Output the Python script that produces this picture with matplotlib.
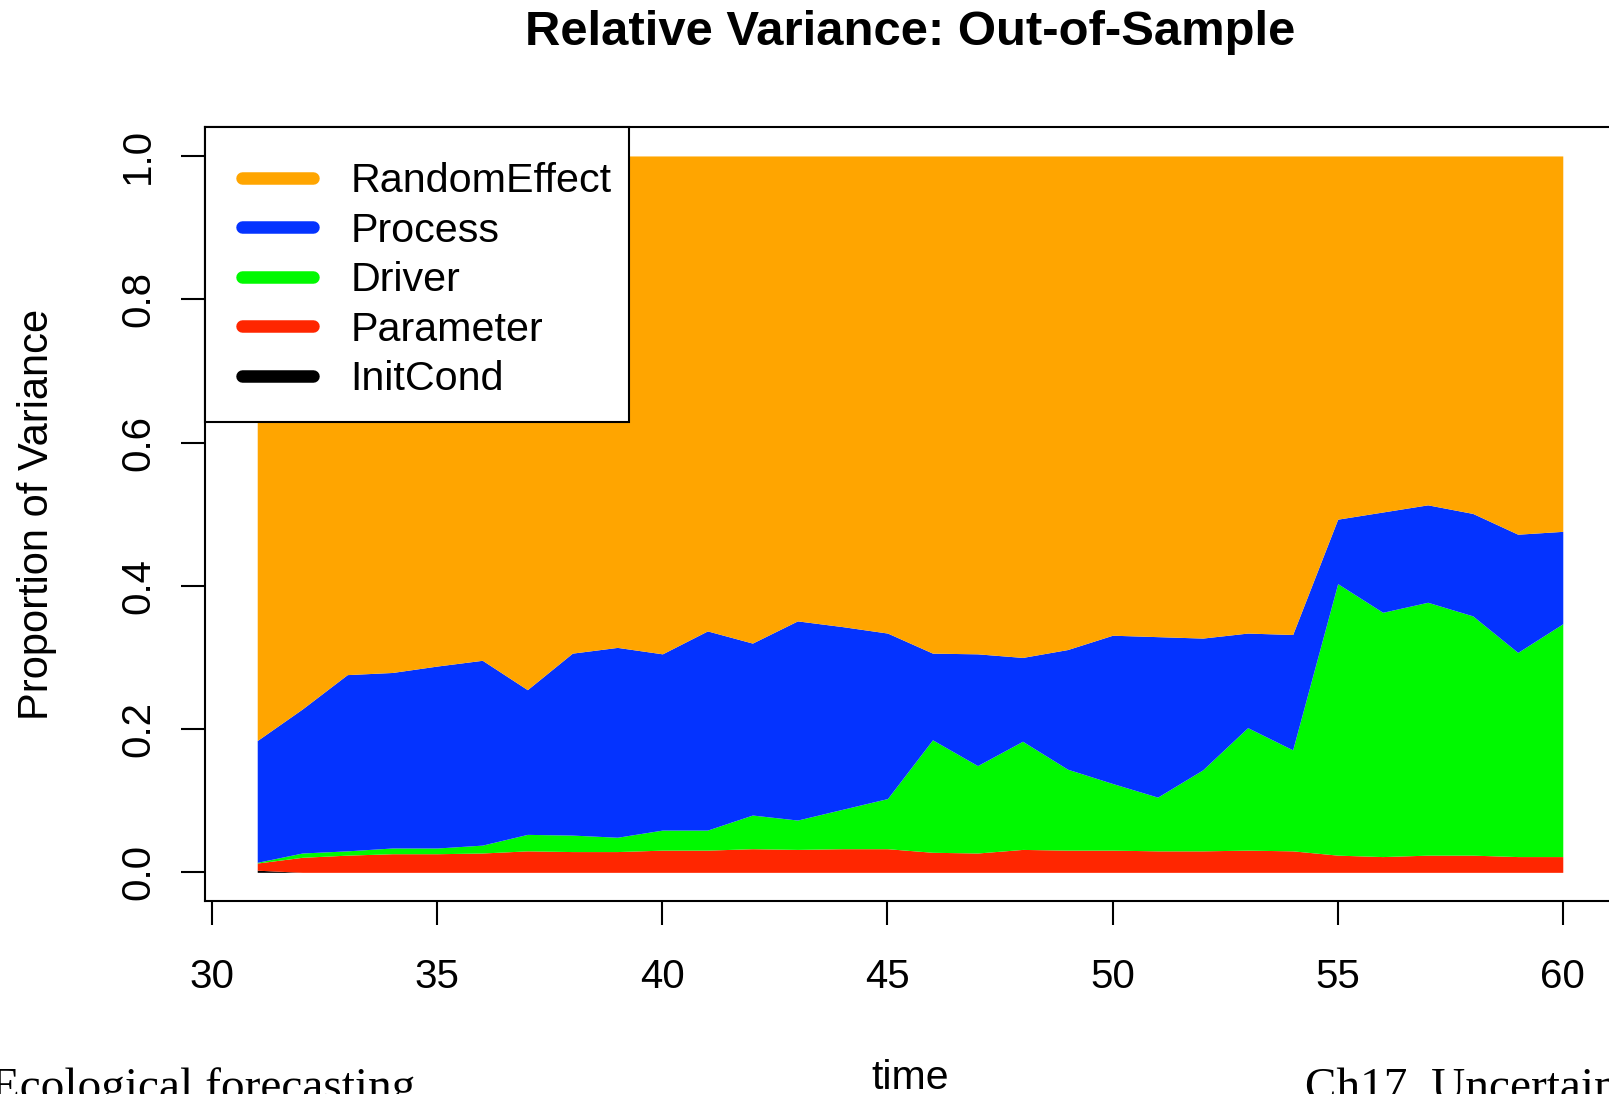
import matplotlib
matplotlib.use("Agg")
import matplotlib.pyplot as plt
from matplotlib.lines import Line2D
from matplotlib.patches import Rectangle

plt.rcParams['font.family'] = ['Liberation Sans', 'DejaVu Sans']

# forecast times
time = [31, 32, 33, 34, 35, 36, 37, 38, 39, 40,
        41, 42, 43, 44, 45, 46, 47, 48, 49, 50,
        51, 52, 53, 54, 55, 56, 57, 58, 59, 60]

# cumulative proportion of variance (top edge of each stacked band)
init_top = [0.003, 0.0, 0.0, 0.0, 0.0, 0.0, 0.0, 0.0, 0.0, 0.0,
            0.0, 0.0, 0.0, 0.0, 0.0, 0.0, 0.0, 0.0, 0.0, 0.0,
            0.0, 0.0, 0.0, 0.0, 0.0, 0.0, 0.0, 0.0, 0.0, 0.0]
param_top = [0.013, 0.021, 0.024, 0.026, 0.026, 0.027, 0.030, 0.029, 0.029, 0.031,
             0.031, 0.033, 0.032, 0.033, 0.033, 0.028, 0.027, 0.032, 0.031, 0.031,
             0.030, 0.030, 0.031, 0.030, 0.024, 0.022, 0.024, 0.024, 0.022, 0.022]
driver_top = [0.014, 0.027, 0.030, 0.034, 0.034, 0.038, 0.053, 0.052, 0.049, 0.059,
              0.059, 0.080, 0.073, 0.088, 0.103, 0.185, 0.149, 0.183, 0.144, 0.124,
              0.105, 0.143, 0.202, 0.171, 0.403, 0.363, 0.377, 0.358, 0.307, 0.347]
process_top = [0.184, 0.228, 0.276, 0.279, 0.288, 0.296, 0.255, 0.306, 0.314, 0.305,
               0.337, 0.320, 0.351, 0.343, 0.334, 0.306, 0.305, 0.300, 0.311, 0.331,
               0.329, 0.327, 0.334, 0.332, 0.493, 0.503, 0.513, 0.501, 0.472, 0.476]
random_top = [1.0] * len(time)

labels = ["RandomEffect", "Process", "Driver", "Parameter", "InitCond"]
colors = ["#FFA500", "#0433FF", "#00F900", "#FF2600", "#000000"]

fig = plt.figure(figsize=(16.09, 10.94), dpi=100)
ax = fig.add_axes([205 / 1609, 193 / 1094, 1410 / 1609, 773.7 / 1094])

# stacked bands, bottom to top
bands = [([0.0] * len(time), init_top),
         (init_top, param_top),
         (param_top, driver_top),
         (driver_top, process_top),
         (process_top, random_top)]
band_cols = colors[::-1]
for (lo, hi), col in zip(bands, band_cols):
    ax.fill_between(time, lo, hi, color=col, linewidth=0)

ax.set_xlim(29.84, 61.16)
ax.set_ylim(-0.04, 1.04)
ax.set_xticks([30, 35, 40, 45, 50, 55, 60])
ax.set_yticks([0.0, 0.2, 0.4, 0.6, 0.8, 1.0])
ax.set_yticklabels(["0.0", "0.2", "0.4", "0.6", "0.8", "1.0"])

for s in ax.spines.values():
    s.set_linewidth(1.5)
ax.tick_params(axis='both', length=17.3, width=1.5, labelsize=29)
ax.tick_params(axis='x', pad=24)
ax.tick_params(axis='y', pad=17)
for lab in ax.get_yticklabels():
    lab.set_rotation(90)
    lab.set_va('center')

# legend box drawn like R's (frame separate from the entries)
ax.add_patch(Rectangle((0, 0.6191), 0.3007, 0.3809, transform=ax.transAxes,
                       facecolor='white', edgecolor='black', linewidth=1.5,
                       zorder=4, clip_on=False))
handles = [Line2D([0], [0], color=c, lw=9, solid_capstyle='round') for c in colors]
leg = ax.legend(handles, labels, loc='upper left', bbox_to_anchor=(0.0265, 0.955),
                borderaxespad=0, fontsize=29.7, frameon=False, borderpad=0,
                labelspacing=0.28, handlelength=1.72, handletextpad=0.9)
leg.set_zorder(5)

fig.text(910 / 1609, 1 - 45 / 1094, "Relative Variance: Out-of-Sample",
         ha='center', va='baseline', fontsize=35.3, fontweight='bold')
fig.text(910 / 1609, 1 - 1089 / 1094, "time", ha='center', va='baseline', fontsize=29.5)
fig.text(37 / 1609, 1 - 514 / 1094, "Proportion of Variance", rotation=90,
         ha='center', va='center', fontsize=30)

# slide footer
fig.text(-9 / 1609, 1 - 1100 / 1094, "Ecological forecasting",
         ha='left', va='baseline', fontsize=34, family='Liberation Serif')
fig.text(1305 / 1609, 1 - 1100 / 1094, "Ch17. Uncertainty",
         ha='left', va='baseline', fontsize=34, family='Liberation Serif')

fig.savefig("out.png", dpi=100)
